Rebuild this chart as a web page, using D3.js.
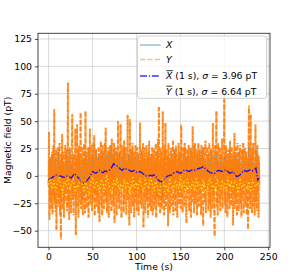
<!DOCTYPE html>
<html><head><meta charset="utf-8">
<script src="https://cdn.jsdelivr.net/npm/d3@7"></script>
<style>body{margin:0;background:#fff}svg{display:block;font-family:"DejaVu Sans",sans-serif}</style>
</head><body><svg id="c" width="300" height="278"></svg>
<script>
const xTicks=[0,50,100,150,200,250];
const yTicks=[-50,-25,0,25,50,75,100,125];
const legendLabels=["X","Y","Xbar","Ybar"];
const sigmaX="3.96", sigmaY="6.64";
const stepX=1, stepY=0.5, stepBar=2;
// X (1 s samples)
const xValues=[
-10,14,-18,8,20,-12,4,-22,16,2,-14,22,-6,10,-20,18,-2,12,-16,6,
20,-8,14,-18,24,-4,10,-16,18,-10,6,-20,16,2,-12,20,-14,8,-22,4,
16,-10,22,-6,12,-18,26,-2,8,-14,20,-4,14,-16,24,0,-10,18,-8,12,
-14,22,-2,16,-12,26,4,-8,20,-6,14,28,-4,18,-10,24,2,-6,20,10,
-8,22,4,-12,18,-2,26,-10,14,6,-16,20,0,16,-8,24,-4,10,-14,18,
2,-12,20,-6,14,-16,22,0,-10,16,-4,12,-18,18,-2,10,-14,20,-8,6,
-16,14,-6,22,-20,8,2,-14,16,-22,10,-4,20,-12,6,-10,18,-2,14,-8,
20,-6,12,-14,24,0,10,-10,18,-4,22,-8,14,2,-12,26,-2,16,-6,20,
8,-10,24,-2,16,-8,28,4,-6,20,10,-4,22,-12,18,0,26,-6,14,6,
-8,20,2,16,-12,24,-4,10,-16,18,0,22,-10,14,4,-8,20,-2,12,-6,
18,-10,22,0,14,-8,24,-4,10,-14,16,2,-12,20,-6,12,-10,22,-2,8,
-12,24,2,14,-8,20,6,-6,26,-4,16,-10,22,0,12,-8,24,4,-14,18,
2];
// Y (0.5 s samples)
const yValues=[
-8,40,-40,12,-22,18,-30,5,22,-35,-2,28,-18,61,-26,10,-33,24,-49.5,6,
-15,26,-28,8,-20,30,-36,14,-58,20,-12,38,-30,4,22,-38,10,-24,28,-16,
-6,24,-32,14,85,-26,6,-40,26,-10,18,-34,2,30,56,-22,12,-36,20,-8,
-18,43,-54,16,-28,47,-12,24,-38,8,28,-24,2,57,-30,18,-14,26,-36,10,
-22,30,-8,-34,59,-16,22,-30,14,-4,26,-38,6,-20,43,-26,16,-10,28,-32,
4,-24,30,-14,37,-36,12,-6,24,-28,18,-20,8,-34,26,-12,-42,20,-2,32,
-26,14,-36,28,-8,22,-30,6,30,-18,44,-24,12,-34,18,-4,26,-38,10,-16,
28,-22,16,-32,34,-10,20,-28,8,30,-43,12,-18,26,-6,-36,22,-14,50,-24,
18,-30,10,24,47,-20,-38,14,28,-12,6,-34,32,-26,20,-8,26,-36,12,-18,
56,-22,14,-30,-45,52,-10,24,-34,18,-6,30,-28,8,22,-38,16,-14,28,-24,
10,-32,26,-8,20,-36,14,-18,49,-26,4,24,-30,18,-12,30,-47,12,-20,26,
-34,16,-6,28,-24,10,-38,22,-14,32,-28,8,20,-32,14,-10,26,-36,18,-4,
24,-30,12,-22,30,-38,6,20,-16,34,-28,63,-20,14,-34,26,-8,22,-30,10,
59,-24,16,-36,28,-12,48,-30,8,24,-20,14,-46,30,-6,20,-34,12,-16,26,
-28,18,-10,32,-36,6,24,-22,14,-32,28,-8,20,-38,10,-16,30,-26,16,-4,
22,-30,47,-18,12,-34,26,-10,20,-28,30,-14,8,-36,-43,24,-20,14,-6,28,
-32,16,-12,26,-38,10,22,-24,45,-16,18,-34,6,30,-26,12,-8,24,-36,20,
-14,30,-28,8,24,-20,14,-36,28,-10,20,-30,-46,26,-6,16,-24,32,-34,10,
-18,26,-8,20,-32,14,30,-26,6,-38,24,-12,18,-30,48,-20,12,-34,-56,28,
-10,22,59,-28,16,-36,30,-14,8,-24,26,-32,12,20,-18,34,-30,6,-8,24,
75,-26,14,-34,28,-12,20,-38,10,24,-22,16,-30,32,-6,18,-28,26,-16,12,
-45,22,-18,39,-30,10,26,-24,16,-36,30,-8,20,-32,14,-14,28,-26,8,-38,
24,-20,12,30,-34,18,-10,26,-28,6,22,-36,16,-16,-49,28,64,-22,14,-30,
56,-18,20,-34,26,-12,30,-28,10,-36,22,47,-24,16,-32,28,-14,20,-38,12,
-10];
// 1 s averages (every 2 s)
const xBarValues=[
-3.7,-2.5,-1.5,-0.5,1,0.5,-0.5,0,-1,-1.2,-0.5,0,-1,-2,0.5,2,-0.5,-1.5,-3.5,-6,
-6.5,-5,-4,-2,1,4,3,2.4,4,5,3.5,3,4.5,4,5,5.5,8,11,10,9,
8,6,5,7,6.5,6,5,4,4.5,5,3.5,3,4,3,1.5,1,-0.5,0,0.5,0,
1,0,-3,-4.5,-6,-4,-2,-1,0,0.5,1,2.5,3.5,4,3,2.4,3.5,5,5.5,4.6,
4,5,5.5,5,6,6.5,7,7.5,8.5,7,5.5,4,3,2.5,1.8,3,4.5,5,4.5,4,
5,5.5,4,2.4,3,4,1.5,-0.6,0,1,3,5,4.5,4,5,5.5,4.6,5.5,7,-3.7,
-2];
const yBarValues=[
-8,-2,-12,-4,-14,-6,0,-10,-16,-5,-9,-1,-13,-7,-3,-15,-8,-11,-2,-6,
-14,-4,-10,-18,-7,-1,-12,-5,-9,-15,-3,-8,-13,1,-6,-11,-17,-4,-9,-2,
-12,-7,-14,-3,-10,-5,-16,-8,0,-11,-6,-13,-2,-9,-15,-4,-8,-12,-1,-7,
-14,-5,-10,-18,-6,-3,-11,-8,-15,-2,-9,-13,-4,-7,-12,0,-10,-6,-16,-3,
-8,-12,-5,-14,-1,-9,-7,-13,-4,-10,-17,-6,-2,-11,-8,-15,-3,-9,-12,-5,
-7,-14,-1,-10,-6,-13,-4,-8,-16,-2,-11,-7,-9,-12,-5,-15,-3,-8,-10,-6,
-9];

const W=300,H=278, L=38,R=270,T=33.3,B=247.3, FS=9.3;
const svg=d3.select("#c");
const x=d3.scaleLinear().domain([-12,252]).range([L,R]);
const y=d3.scaleLinear().domain([-65.2,130.2]).range([B,T]);
const lw=1.4;

svg.append("defs").append("clipPath").attr("id","clip").append("rect")
  .attr("x",L).attr("y",T).attr("width",R-L).attr("height",B-T);

// grid
const grid=svg.append("g").attr("stroke","#b0b0b0").attr("stroke-opacity",0.45).attr("stroke-width",1);
grid.selectAll(".gx").data(xTicks).join("line").attr("x1",d=>x(d)).attr("x2",d=>x(d)).attr("y1",T).attr("y2",B);
grid.selectAll(".gy").data(yTicks).join("line").attr("y1",d=>y(d)).attr("y2",d=>y(d)).attr("x1",L).attr("x2",R);

const plot=svg.append("g").attr("clip-path","url(#clip)");
const line=d3.line().x(d=>x(d[0])).y(d=>y(d[1]));
const ptsX=xValues.map((v,i)=>[i*stepX,v]);
const ptsY=yValues.map((v,i)=>[i*stepY,v]);
const ptsXb=xBarValues.map((v,i)=>[i*stepBar,v]);
const ptsYb=yBarValues.map((v,i)=>[i*stepBar,v]);

plot.append("g").selectAll("path").data(d3.pairs(ptsX)).join("path")
  .attr("d",d=>line(d)).attr("fill","none").attr("stroke","#1f77b4").attr("stroke-opacity",0.55).attr("stroke-width",1.6);
plot.append("g").selectAll("path").data(d3.pairs(ptsY)).join("path")
  .attr("d",d=>line(d)).attr("fill","none").attr("stroke","#ff7f0e").attr("stroke-opacity",0.8)
  .attr("stroke-width",1.9).attr("stroke-dasharray","5.2,1.5")
  .attr("stroke-dashoffset",(d,i)=>(i*2.3)%6.7);
plot.append("path").attr("d",line(ptsXb)).attr("fill","none").attr("stroke","#0000ff").attr("stroke-opacity",0.85)
  .attr("stroke-width",1.4).attr("stroke-dasharray","7,1.8,1.2,1.8");
plot.append("path").attr("d",line(ptsYb)).attr("fill","none").attr("stroke","#ffff00").attr("stroke-opacity",0.75)
  .attr("stroke-width",1.4).attr("stroke-dasharray","1.4,2.3");

// spines
svg.append("rect").attr("x",L).attr("y",T).attr("width",R-L).attr("height",B-T)
  .attr("fill","none").attr("stroke","#333").attr("stroke-width",0.9);

// axes
const xa=svg.append("g").attr("transform",`translate(0,${B})`)
  .call(d3.axisBottom(x).tickValues(xTicks).tickSize(3).tickPadding(3).tickFormat(d3.format("d")));
const ya=svg.append("g").attr("transform",`translate(${L},0)`)
  .call(d3.axisLeft(y).tickValues(yTicks).tickSize(3).tickPadding(3).tickFormat(d=>d<0?"\u2212"+Math.abs(d):d));
[xa,ya].forEach(a=>{a.select(".domain").remove();
  a.selectAll("line").attr("stroke","#333").attr("stroke-width",0.9);
  a.selectAll("text").attr("font-family","DejaVu Sans").attr("font-size",FS).attr("fill","#000");});

svg.append("text").attr("x",(L+R)/2).attr("y",269.5).attr("text-anchor","middle")
  .attr("font-size",FS).text("Time (s)");
svg.append("text").attr("transform",`translate(11,${(T+B)/2}) rotate(-90)`).attr("text-anchor","middle")
  .attr("font-size",FS).text("Magnetic field (pT)");

// legend
const lg=svg.append("g");
lg.append("rect").attr("x",137.5).attr("y",36).attr("width",129).attr("height",62.3).attr("rx",2.5)
  .attr("fill","#fff").attr("fill-opacity",0.8).attr("stroke","#cccccc").attr("stroke-width",0.9);
const rows=[
 {base:48,   color:"#1f77b4", op:0.5, dash:null},
 {base:62.5, color:"#ff7f0e", op:0.5, dash:"5.2,2.2"},
 {base:79,   color:"#0000ff", op:0.8, dash:"7,1.8,1.2,1.8"},
 {base:94.5, color:"#ffff00", op:0.6, dash:"1.4,2.3"}];
rows.forEach((r,i)=>{
  const cy=r.base-3;
  const hl=lg.append("line").attr("x1",140).attr("x2",160.5).attr("y1",cy).attr("y2",cy)
    .attr("stroke",r.color).attr("stroke-opacity",r.op).attr("stroke-width",lw);
  if(r.dash) hl.attr("stroke-dasharray",r.dash);
  const t=lg.append("text").attr("x",166).attr("y",r.base).attr("font-size",FS);
  const letter=legendLabels[i].charAt(0);
  const sp=t.append("tspan").attr("font-style","italic").text(letter);
  if(i>=2){
    const w=sp.node().getComputedTextLength();
    t.append("tspan").text(" (1 s), ");
    t.append("tspan").attr("font-style","italic").text("\u03c3");
    t.append("tspan").text(" = "+(i===2?sigmaX:sigmaY)+" pT");
    lg.append("line").attr("x1",166.3).attr("x2",166+w+0.6).attr("y1",r.base-8.3).attr("y2",r.base-8.3)
      .attr("stroke","#000").attr("stroke-width",0.8);
  }
});
</script></body></html>
